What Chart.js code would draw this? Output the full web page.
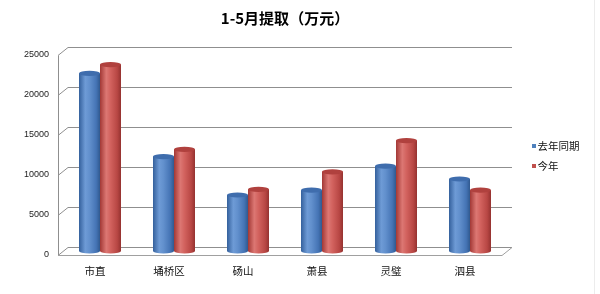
<!DOCTYPE html>
<html><head><meta charset="utf-8">
<script src="https://cdn.jsdelivr.net/npm/chart.js@4/dist/chart.umd.min.js"></script>
<style>html,body{margin:0;padding:0;background:#fff;}#wrap{width:600px;height:294px;position:relative;}</style>
</head><body><div id="wrap"><canvas id="c" width="600" height="294"></canvas></div>
<script>
const categories = ['市直', '埇桥区', '砀山', '萧县', '灵璧', '泗县'];
const lastYear = [22200, 11800, 7000, 7600, 10600, 9000];
const thisYear = [23300, 12700, 7700, 9900, 13800, 7600];
const yTicks = [0, 5000, 10000, 15000, 20000, 25000];
const seriesNames = ['去年同期', '今年'];
const titleText = '1-5月提取（万元）';

const seriesColors = ['#4f81bd', '#c0504d'];
const gradStops = [
  [[0, '#34609c'], [0.3, '#6e9bd6'], [0.5, '#6290cd'], [0.82, '#4574b5'], [1, '#30598f']],
  [[0, '#a23835'], [0.3, '#dc7773'], [0.5, '#d2625e'], [0.82, '#b84744'], [1, '#953230']]
];
const capColors = ['#3f6dad', '#b0413e'];
const CJK = '"Noto Sans CJK SC", sans-serif';
const NUM = '"Liberation Sans", Arial, sans-serif';
const DX = 5, DY = 4;

const grid3d = {
  id: 'grid3d',
  beforeDatasetsDraw(chart) {
    const ctx = chart.ctx, y = chart.scales.y, a = chart.chartArea;
    const L = a.left, R = a.right;
    ctx.save();
    ctx.strokeStyle = '#8f8f8f';
    ctx.lineWidth = 1;
    yTicks.forEach(v => {
      const py = Math.round(y.getPixelForValue(v)) + 0.5;
      ctx.beginPath();
      ctx.moveTo(L - DX, py + DY);
      ctx.lineTo(L + DX, py - DY);
      ctx.lineTo(R + DX, py - DY);
      ctx.stroke();
    });
    const top = Math.round(y.getPixelForValue(yTicks[yTicks.length - 1])) + 0.5;
    const bot = Math.round(y.getPixelForValue(0)) + 0.5;
    ctx.beginPath();
    ctx.moveTo(L - DX + 0.5, top + DY);
    ctx.lineTo(L - DX + 0.5, bot + DY);
    ctx.stroke();
    ctx.strokeStyle = '#a0a0a0';
    ctx.beginPath();
    ctx.moveTo(L - DX, bot + DY);
    ctx.lineTo(R - DX, bot + DY);
    ctx.lineTo(R + DX, bot - DY);
    ctx.stroke();
    ctx.restore();
  }
};

const cylinders = {
  id: 'cylinders',
  afterDatasetsDraw(chart) {
    const ctx = chart.ctx;
    chart.data.datasets.forEach((ds, di) => {
      const meta = chart.getDatasetMeta(di);
      meta.data.forEach(el => {
        const w = el.width, x0 = el.x - w / 2, x1 = el.x + w / 2;
        const g = ctx.createLinearGradient(x0, 0, x1, 0);
        gradStops[di].forEach(s => g.addColorStop(s[0], s[1]));
        const ry = 2.6;
        ctx.save();
        ctx.fillStyle = g;
        ctx.fillRect(x0, el.y, w, el.base - el.y);
        ctx.beginPath();
        ctx.ellipse(el.x, el.base, w / 2, ry, 0, 0, Math.PI);
        ctx.fill();
        ctx.beginPath();
        ctx.ellipse(el.x, el.y, w / 2, ry, 0, 0, Math.PI * 2);
        ctx.fillStyle = capColors[di];
        ctx.fill();
        ctx.restore();
      });
    });
  }
};

const legendDraw = {
  id: 'legendDraw',
  afterDraw(chart) {
    const ctx = chart.ctx;
    ctx.save();
    ctx.font = '10.5px ' + CJK;
    ctx.textBaseline = 'middle';
    chart.data.datasets.forEach((ds, i) => {
      const cy = 146 + i * 20;
      ctx.fillStyle = seriesColors[i];
      ctx.fillRect(532, cy - 2, 4, 4);
      ctx.fillStyle = '#111';
      ctx.fillText(ds.label, 537.5, cy);
    });
    ctx.strokeStyle = '#ececec';
    ctx.beginPath();
    ctx.moveTo(594.5, 0);
    ctx.lineTo(594.5, 294);
    ctx.stroke();
    ctx.restore();
  }
};

new Chart(document.getElementById('c'), {
  type: 'bar',
  data: {
    labels: categories,
    datasets: [
      { label: seriesNames[0], data: lastYear, backgroundColor: seriesColors[0], borderWidth: 0 },
      { label: seriesNames[1], data: thisYear, backgroundColor: seriesColors[1], borderWidth: 0 }
    ]
  },
  options: {
    responsive: false,
    devicePixelRatio: 1,
    animation: false,
    categoryPercentage: 0.5676,
    barPercentage: 1,
    layout: { padding: { left: 0, right: 93, top: 0, bottom: 0 } },
    plugins: {
      legend: { display: false },
      tooltip: { enabled: false },
      title: {
        display: true,
        text: titleText,
        fullSize: false,
        color: '#000',
        font: { family: CJK, size: 15, weight: 'bold' },
        padding: { top: 9.5, bottom: 23.5 }
      }
    },
    scales: {
      x: {
        type: 'category',
        offset: true,
        grid: { display: false, drawTicks: false },
        border: { display: false },
        ticks: { font: { family: CJK, size: 10.5 }, color: '#111', padding: 14, labelOffset: -5, maxRotation: 0 },
        afterFit(s) { s.height = 43; }
      },
      y: {
        type: 'linear',
        min: 0,
        max: 25000,
        grid: { display: false, drawTicks: false },
        border: { display: false },
        ticks: { stepSize: 5000, font: { family: NUM, size: 9 }, color: '#222', padding: 14, labelOffset: 4, callback: v => String(v) },
        afterFit(s) { s.width = 63; }
      }
    }
  },
  plugins: [grid3d, cylinders, legendDraw]
});
</script>
</body></html>
